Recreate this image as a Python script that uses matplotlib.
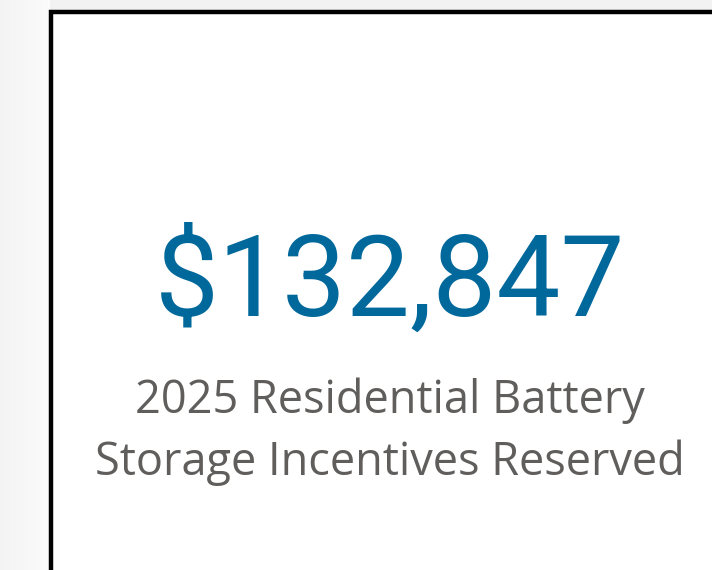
import matplotlib.pyplot as plt
from matplotlib.patches import Rectangle
import numpy as np

## CARD DATA
VALUE = 132847
LABEL_LINES = ["2025 Residential Battery", "Storage Incentives Reserved"]

W, H = 712, 570
fig = plt.figure(figsize=(W / 100, H / 100), dpi=100)
ax = fig.add_axes([0, 0, 1, 1])
ax.set_xlim(0, W)
ax.set_ylim(H, 0)
ax.axis("off")

# soft grey shadow outside the card (left strip and top strip)
grad = np.linspace(0.955, 0.985, 50).reshape(1, -1)
ax.imshow(np.dstack([grad] * 3), extent=(0, 50, H, 0), aspect="auto", zorder=0)
ax.add_patch(Rectangle((50, 0), W - 50, 11, color="#f2f2f2", lw=0, zorder=0))

# card with thick black border on left and top
ax.add_patch(Rectangle((51, 12), W, H, facecolor="white", edgecolor="black", lw=3.2, zorder=1))

value_text = "${:,}".format(VALUE)
ax.text(390, 316, value_text, ha="center", va="baseline", fontsize=82,
        family="Roboto", color="#01689b", zorder=2)

for i, line in enumerate(LABEL_LINES):
    ax.text(390, 413 + i * 62, line, ha="center", va="baseline", fontsize=32.5,
            family="Open Sans", color="#605e5c", zorder=2)

fig.savefig("out.png", dpi=100)
